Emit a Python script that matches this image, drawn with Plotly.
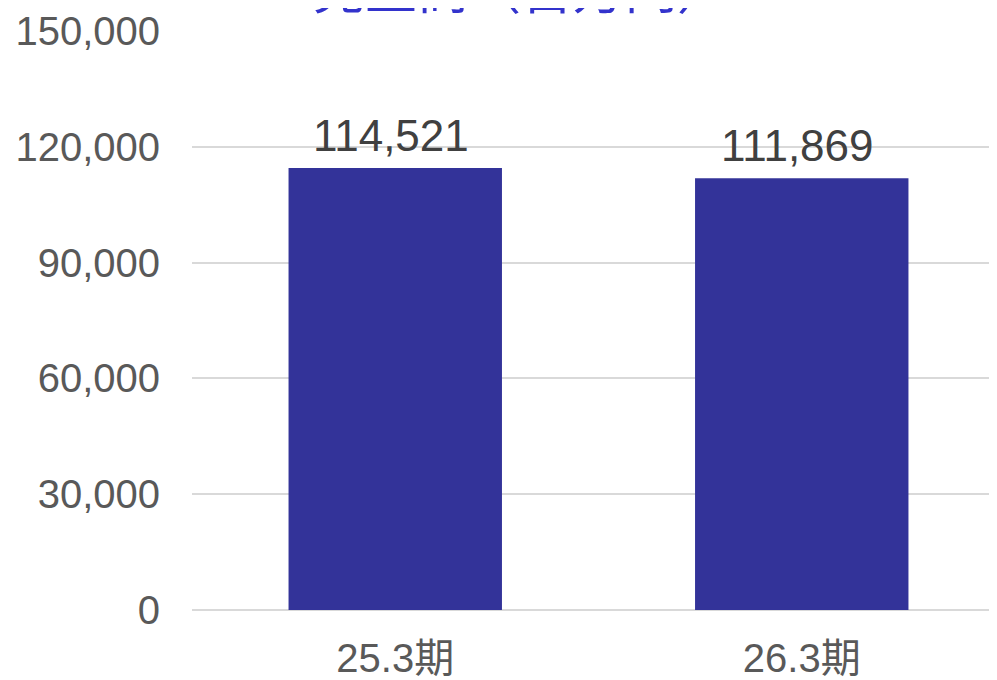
import plotly.graph_objects as go

categories = ["25.3期", "26.3期"]
sales = [114521, 111869]
y_ticks = [0, 30000, 60000, 90000, 120000, 150000]
title_text = "売上高（百万円）"

FONT = "Liberation Sans, Arial, Noto Sans CJK JP, sans-serif"

fig = go.Figure()
fig.add_trace(go.Bar(
    x=categories, y=sales,
    marker=dict(color="#333399", line=dict(width=0)),
    width=0.525,
    hoverinfo="skip",
))

for c, v in zip(categories, sales):
    fig.add_annotation(
        x=c, y=v, xref="x", yref="y",
        text=f"{v:,}", showarrow=False,
        yanchor="bottom", yshift=6, xshift=-4,
        font=dict(family=FONT, size=44, color="#404040"),
    )

fig.add_annotation(
    x=0.405, y=1.0, xref="paper", yref="paper",
    text=title_text, showarrow=False,
    xanchor="center", yanchor="bottom", yshift=9,
    font=dict(family=FONT, size=52, color="#3333CC"),
)

fig.update_layout(
    width=997, height=680, autosize=False,
    margin=dict(l=184, r=0, t=23, b=78),
    paper_bgcolor="white", plot_bgcolor="white",
    showlegend=False,
    font=dict(family=FONT, color="#595959"),
)
fig.update_xaxes(
    type="category", range=[-0.5, 1.5],
    showgrid=False, showline=False, zeroline=False,
    ticks="", tickfont=dict(size=40, color="#595959", family=FONT),
    ticklabelstandoff=21,
)
fig.update_yaxes(
    range=[0, 150000], tickvals=y_ticks,
    ticktext=[f"{t:,}" for t in y_ticks],
    showgrid=True, gridcolor="#D9D9D9", gridwidth=2,
    zeroline=True, zerolinecolor="#D9D9D9", zerolinewidth=2,
    showline=False, ticks="",
    tickfont=dict(size=40, color="#595959", family=FONT),
    ticklabelstandoff=31,
)

fig.write_html("out.html")
